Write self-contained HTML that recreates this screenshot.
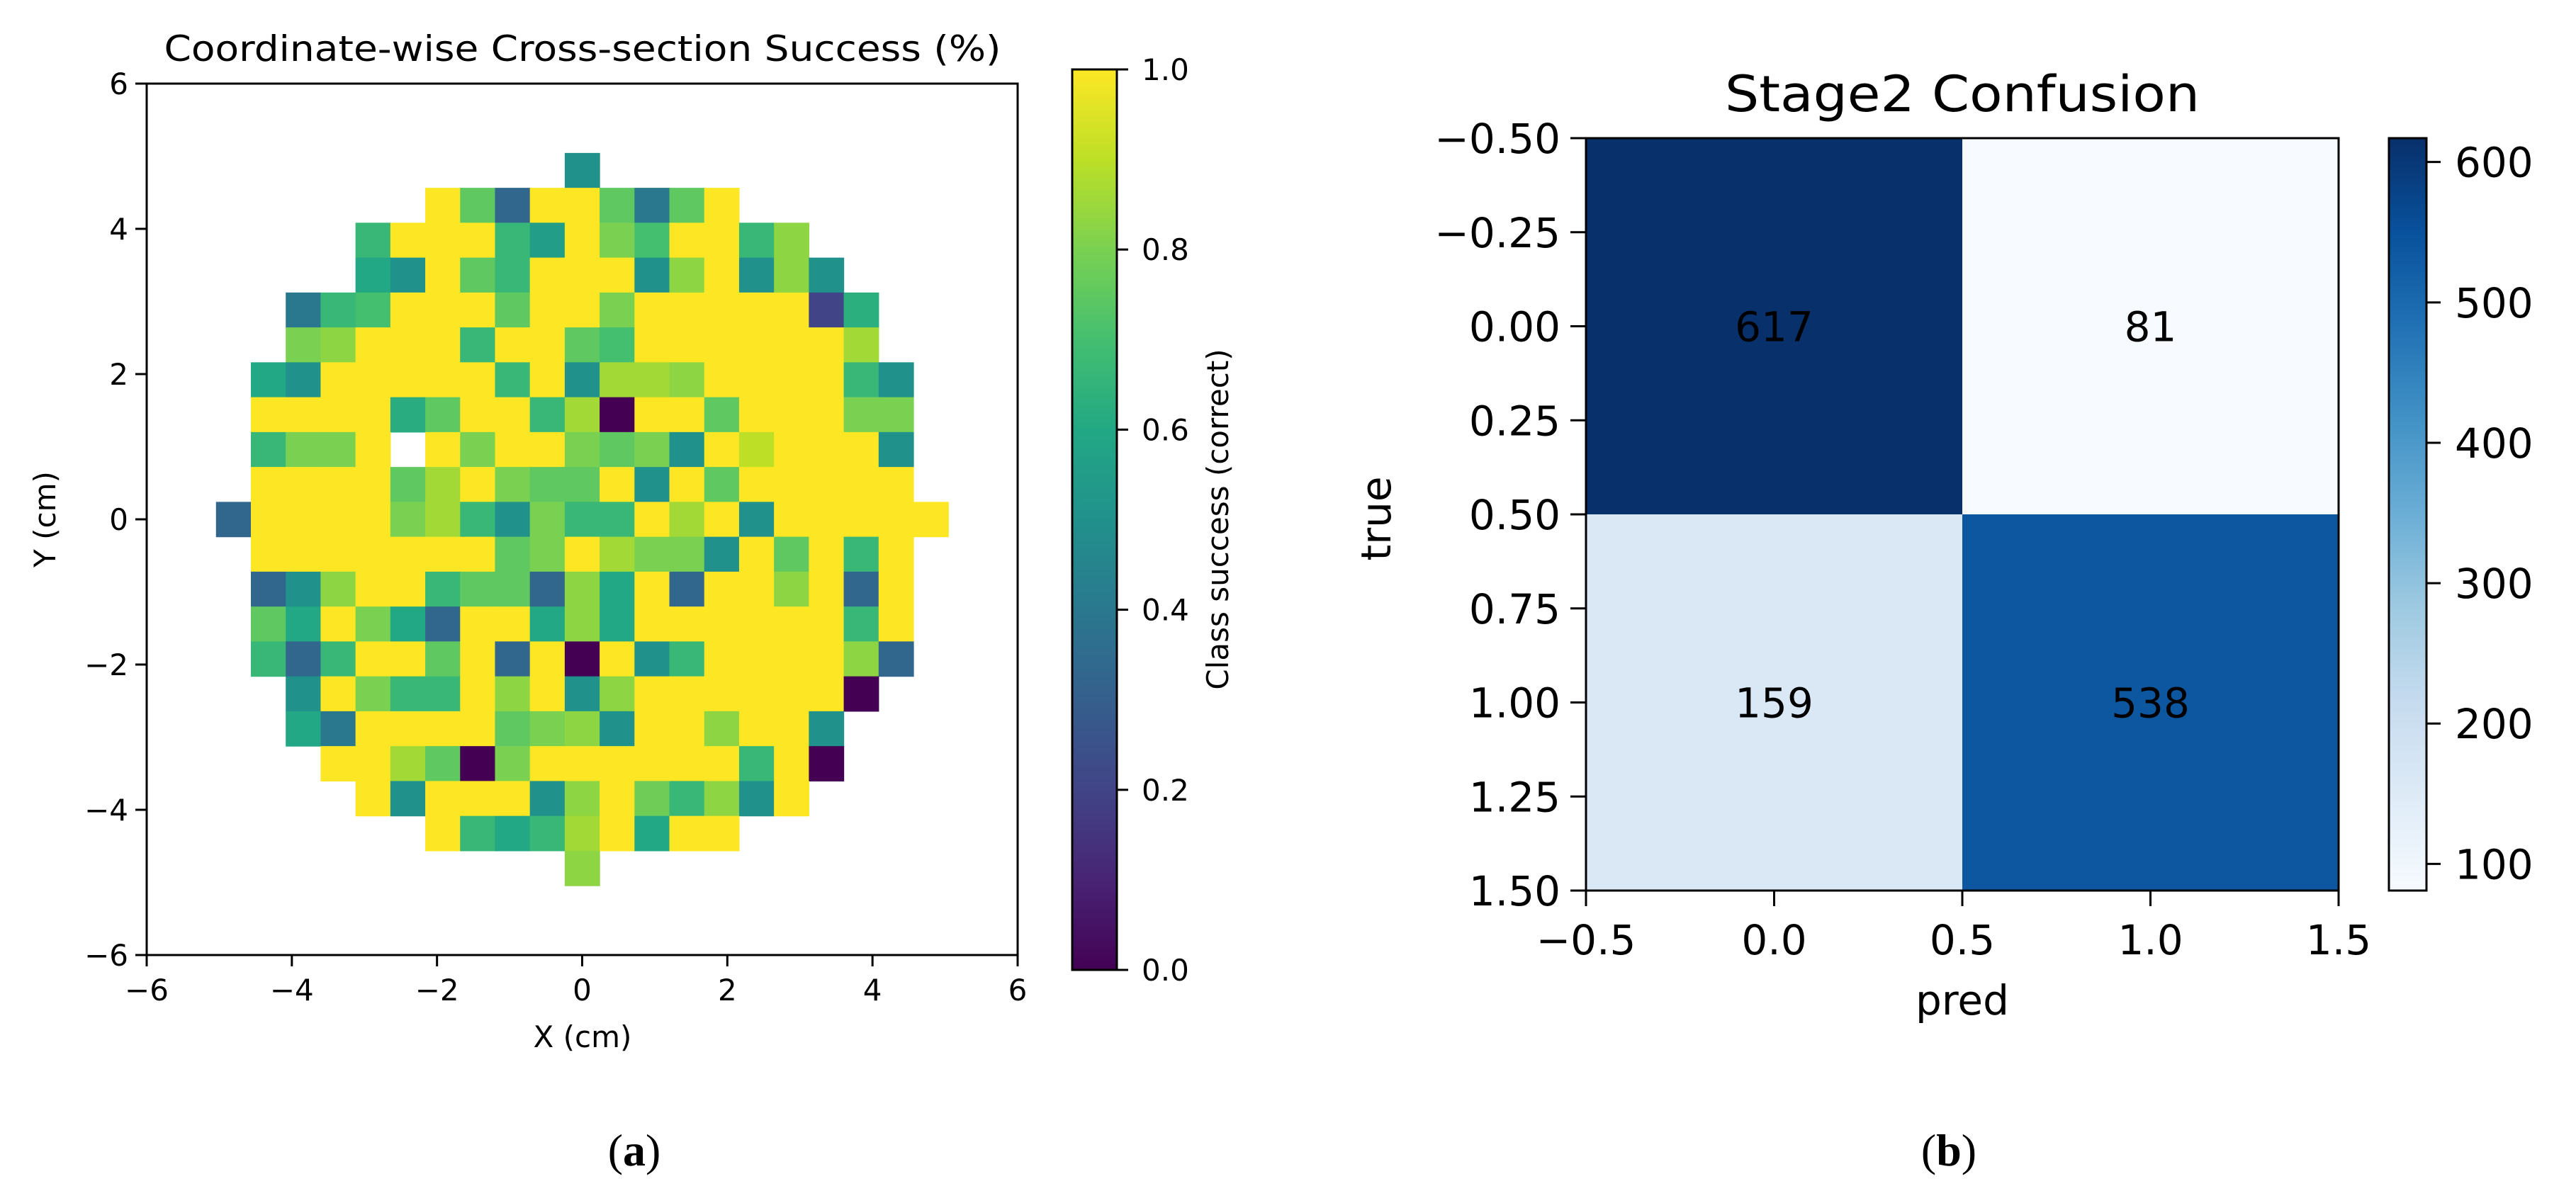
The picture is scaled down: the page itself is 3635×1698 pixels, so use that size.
<!DOCTYPE html>
<html><head><meta charset="utf-8">
<style>
html,body{margin:0;padding:0;background:#fff;}
svg{display:block;}
text{font-family:"DejaVu Sans","Liberation Sans",sans-serif;fill:#000;}
</style></head>
<body>
<svg id="fig" width="3635" height="1698" viewBox="0 0 3635 1698" xmlns="http://www.w3.org/2000/svg">
<defs>
<linearGradient id="viridisGrad" x1="0" y1="1" x2="0" y2="0">
<stop offset="0" stop-color="#440154"/><stop offset="0.1" stop-color="#482475"/><stop offset="0.2" stop-color="#414487"/><stop offset="0.3" stop-color="#355f8d"/><stop offset="0.4" stop-color="#2a788e"/><stop offset="0.5" stop-color="#21918c"/><stop offset="0.6" stop-color="#22a884"/><stop offset="0.7" stop-color="#44bf70"/><stop offset="0.8" stop-color="#7ad151"/><stop offset="0.9" stop-color="#bddf26"/><stop offset="1" stop-color="#fde725"/>
</linearGradient>
<linearGradient id="bluesGrad" x1="0" y1="1" x2="0" y2="0">
<stop offset="0" stop-color="#f7fbff"/><stop offset="0.125" stop-color="#deebf7"/><stop offset="0.25" stop-color="#c6dbef"/><stop offset="0.375" stop-color="#9ecae1"/><stop offset="0.5" stop-color="#6baed6"/><stop offset="0.625" stop-color="#4292c6"/><stop offset="0.75" stop-color="#2171b5"/><stop offset="0.875" stop-color="#08519c"/><stop offset="1" stop-color="#08306b"/>
</linearGradient>
</defs>
<g id="left"></g>
<g id="right"></g>
<text x="895" y="1645" text-anchor="middle" style="font-family:'Liberation Serif',serif;font-size:64px;">(<tspan font-weight="bold">a</tspan>)</text>
<text x="2750" y="1645" text-anchor="middle" style="font-family:'Liberation Serif',serif;font-size:64px;">(<tspan font-weight="bold">b</tspan>)</text>
</svg>
<script>
// ---------- data: panel (a) ----------
const n = null;
const xTickValues = [-6, -4, -2, 0, 2, 4, 6];
const yTickValues = [-6, -4, -2, 0, 2, 4, 6];
const cbarTicksA = [0.0, 0.2, 0.4, 0.6, 0.8, 1.0];
const gridIndex = [-10,-9,-8,-7,-6,-5,-4,-3,-2,-1,0,1,2,3,4,5,6,7,8,9,10];
const successGrid = [
[n,n,n,n,n,n,n,n,n,n,.5,n,n,n,n,n,n,n,n,n,n],
[n,n,n,n,n,n,1,.75,.333,1,1,.75,.4,.75,1,n,n,n,n,n,n],
[n,n,n,n,.667,1,1,1,.667,.55,1,.8,.7,1,1,.667,.83,n,n,n,n],
[n,n,n,n,.6,.5,1,.75,.667,1,1,1,.5,.83,1,.5,.83,.5,n,n,n],
[n,n,.4,.667,.7,1,1,1,.75,1,1,.8,1,1,1,1,1,.2,.63,n,n],
[n,n,.8,.83,1,1,1,.667,1,1,.75,.7,1,1,1,1,1,1,.86,n,n],
[n,.6,.5,1,1,1,1,1,.667,1,.5,.86,.86,.83,1,1,1,1,.667,.5,n],
[n,1,1,1,1,.62,.75,1,1,.667,.86,0,1,1,.75,1,1,1,.8,.8,n],
[n,.667,.8,.8,1,n,1,.8,1,1,.8,.75,.8,.5,1,.9,1,1,1,.5,n],
[n,1,1,1,1,.75,.86,1,.8,.75,.75,1,.5,1,.75,1,1,1,1,1,n],
[.333,1,1,1,1,.8,.86,.667,.5,.8,.667,.667,1,.86,1,.5,1,1,1,1,1],
[n,1,1,1,1,1,1,1,.75,.8,1,.86,.8,.8,.5,1,.75,1,.667,1,n],
[n,.333,.5,.83,1,1,.667,.75,.75,.333,.83,.6,1,.333,1,1,.83,1,.333,1,n],
[n,.75,.6,1,.8,.6,.333,1,1,.6,.83,.6,1,1,1,1,1,1,.667,1,n],
[n,.667,.333,.667,1,1,.75,1,.333,1,0,1,.5,.667,1,1,1,1,.83,.333,n],
[n,n,.5,1,.8,.667,.667,1,.83,1,.5,.83,1,1,1,1,1,1,0,n,n],
[n,n,.6,.4,1,1,1,1,.75,.8,.83,.5,1,1,.83,1,1,.5,n,n,n],
[n,n,n,1,1,.86,.75,0,.8,1,1,1,1,1,1,.667,1,0,n,n,n],
[n,n,n,n,1,.5,1,1,1,.5,.83,1,.78,.667,.83,.5,1,n,n,n,n],
[n,n,n,n,n,n,1,.667,.6,.667,.86,1,.6,1,1,n,n,n,n,n,n],
[n,n,n,n,n,n,n,n,n,n,.83,n,n,n,n,n,n,n,n,n,n]
];
// ---------- data: panel (b) ----------
const predClasses = [0, 1];
const trueClasses = [0, 1];
const confusionRow0 = [617, 81];
const confusionRow1 = [159, 538];
const xTicksB = [-0.5, 0.0, 0.5, 1.0, 1.5];
const yTicksB = [-0.5, -0.25, 0.0, 0.25, 0.5, 0.75, 1.0, 1.25, 1.5];
const cbarTicksB = [100, 200, 300, 400, 500, 600];

const NS = "http://www.w3.org/2000/svg";
function mk(parent, tag, attrs, txt) {
  const e = document.createElementNS(NS, tag);
  for (const k in attrs) e.setAttribute(k, attrs[k]);
  if (txt !== undefined) e.textContent = txt;
  parent.appendChild(e);
  return e;
}
function hex(h){return [parseInt(h.slice(1,3),16),parseInt(h.slice(3,5),16),parseInt(h.slice(5,7),16)];}
function interp(stops, t) {
  t = Math.max(0, Math.min(1, t));
  const k = t * (stops.length - 1), i = Math.min(Math.floor(k), stops.length - 2), f = k - i;
  const a = hex(stops[i]), b = hex(stops[i+1]);
  return "rgb(" + a.map((v,j)=>Math.round(v + (b[j]-v)*f)).join(",") + ")";
}
const viridis = ["#440154","#482475","#414487","#355f8d","#2a788e","#21918c","#22a884","#44bf70","#7ad151","#bddf26","#fde725"];
const blues = ["#f7fbff","#deebf7","#c6dbef","#9ecae1","#6baed6","#4292c6","#2171b5","#08519c","#08306b"];
const fmtMinus = v => (v < 0 ? "\u2212" : "") + Math.abs(v);

// ---------- panel (a) ----------
const L = document.getElementById("left");
const ax = {x0: 207, x1: 1436, y0: 118, y1: 1348, min: -6, max: 6};
const sx = v => ax.x0 + (v - ax.min) / (ax.max - ax.min) * (ax.x1 - ax.x0);
const sy = v => ax.y1 - (v - ax.min) / (ax.max - ax.min) * (ax.y1 - ax.y0);
const cellStep = 0.4805;
const cellsG = mk(L, "g", {});


successGrid.forEach((row, r) => {
  row.forEach((v, c) => {
    if (v === null) return;
    const cx = gridIndex[c] * cellStep, cy = -gridIndex[r] * cellStep;
    const x0 = sx(cx - cellStep/2), x1 = sx(cx + cellStep/2);
    const y0 = sy(cy + cellStep/2), y1 = sy(cy - cellStep/2);
    const rect = mk(cellsG, "rect", {x: x0.toFixed(2), y: y0.toFixed(2), width: (x1-x0+0.6).toFixed(2), height: (y1-y0+0.6).toFixed(2), fill: interp(viridis, v)});
    
    
  });
});
const frameA = mk(L, "rect", {x: ax.x0, y: ax.y0, width: ax.x1-ax.x0, height: ax.y1-ax.y0, fill: "none", stroke: "#000", "stroke-width": 3});


xTickValues.forEach(v => {
  const t = mk(L, "line", {x1: sx(v), x2: sx(v), y1: ax.y1, y2: ax.y1 + 16, stroke: "#000", "stroke-width": 3});
  
  
  const lb = mk(L, "text", {x: sx(v), y: ax.y1 + 64, "text-anchor": "middle", "font-size": 42}, fmtMinus(v));
  
  
});
yTickValues.forEach(v => {
  const t = mk(L, "line", {x1: ax.x0 - 16, x2: ax.x0, y1: sy(v), y2: sy(v), stroke: "#000", "stroke-width": 3});
  
  
  const lb = mk(L, "text", {x: ax.x0 - 26, y: sy(v) + 15, "text-anchor": "end", "font-size": 42}, fmtMinus(v));
  
  
});
const titleA = mk(L, "text", {x: 822, y: 86, "text-anchor": "middle", "font-size": 50, textLength: 1181, lengthAdjust: "spacingAndGlyphs"}, "Coordinate-wise Cross-section Success (%)");


const xLabA = mk(L, "text", {x: 822, y: 1478, "text-anchor": "middle", "font-size": 42}, "X (cm)");


const yLabA = mk(L, "text", {x: 0, y: 0, "text-anchor": "middle", "font-size": 42, transform: "translate(78,733) rotate(-90)"}, "Y (cm)");


// colorbar a
const cbA = {x0: 1513, x1: 1576, y0: 98, y1: 1369};
const cbRectA = mk(L, "rect", {x: cbA.x0, y: cbA.y0, width: cbA.x1-cbA.x0, height: cbA.y1-cbA.y0, fill: "url(#viridisGrad)", stroke: "#000", "stroke-width": 3});


cbarTicksA.forEach(v => {
  const y = cbA.y1 - v * (cbA.y1 - cbA.y0);
  const t = mk(L, "line", {x1: cbA.x1, x2: cbA.x1 + 16, y1: y, y2: y, stroke: "#000", "stroke-width": 3});
  
  
  const lb = mk(L, "text", {x: cbA.x1 + 35, y: y + 15, "font-size": 42}, v.toFixed(1));
  
  
});
const cbLabA = mk(L, "text", {x: 0, y: 0, "text-anchor": "middle", "font-size": 42, transform: "translate(1733,733) rotate(-90)"}, "Class success (correct)");



// ---------- panel (b) ----------
const R = document.getElementById("right");
const bx = {x0: 2238, x1: 3300, y0: 195, y1: 1257};
const bsx = v => bx.x0 + (v + 0.5) / 2 * (bx.x1 - bx.x0);
const bsy = v => bx.y0 + (v + 0.5) / 2 * (bx.y1 - bx.y0);
const allVals = confusionRow0.concat(confusionRow1);
const vmin = Math.min(...allVals), vmax = Math.max(...allVals);
[confusionRow0, confusionRow1].forEach((row, r) => {
  row.forEach((v, c) => {
    const x0 = bsx(predClasses[c] - 0.5), y0 = bsy(trueClasses[r] - 0.5);
    const rect = mk(R, "rect", {x: x0, y: y0, width: bsx(predClasses[c] + 0.5) - x0 + 0.5, height: bsy(trueClasses[r] + 0.5) - y0 + 0.5, fill: interp(blues, (v - vmin) / (vmax - vmin))});
    
    
    const tx = mk(R, "text", {x: bsx(predClasses[c]), y: bsy(trueClasses[r]) + 21, "text-anchor": "middle", "font-size": 58}, String(v));
    
    
  });
});
const frameB = mk(R, "rect", {x: bx.x0, y: bx.y0, width: bx.x1-bx.x0, height: bx.y1-bx.y0, fill: "none", stroke: "#000", "stroke-width": 3});


xTicksB.forEach(v => {
  const t = mk(R, "line", {x1: bsx(v), x2: bsx(v), y1: bx.y1, y2: bx.y1 + 22, stroke: "#000", "stroke-width": 3});
  
  
  const lb = mk(R, "text", {x: bsx(v), y: bx.y1 + 90, "text-anchor": "middle", "font-size": 58}, (v < 0 ? "\u2212" : "") + Math.abs(v).toFixed(1));
  
  
});
yTicksB.forEach(v => {
  const t = mk(R, "line", {x1: bx.x0 - 22, x2: bx.x0, y1: bsy(v), y2: bsy(v), stroke: "#000", "stroke-width": 3});
  
  
  const lb = mk(R, "text", {x: bx.x0 - 36, y: bsy(v) + 21, "text-anchor": "end", "font-size": 58}, (v < 0 ? "\u2212" : "") + Math.abs(v).toFixed(2));
  
  
});
const titleB = mk(R, "text", {x: 2769, y: 157, "text-anchor": "middle", "font-size": 70, textLength: 670, lengthAdjust: "spacingAndGlyphs"}, "Stage2 Confusion");


const xLabB = mk(R, "text", {x: 2769, y: 1432, "text-anchor": "middle", "font-size": 58}, "pred");


const yLabB = mk(R, "text", {x: 0, y: 0, "text-anchor": "middle", "font-size": 58, transform: "translate(1962,732) rotate(-90)"}, "true");


// colorbar b
const cbB = {x0: 3371, x1: 3424, y0: 195, y1: 1257};
const cbRectB = mk(R, "rect", {x: cbB.x0, y: cbB.y0, width: cbB.x1-cbB.x0, height: cbB.y1-cbB.y0, fill: "url(#bluesGrad)", stroke: "#000", "stroke-width": 3});


cbarTicksB.forEach(v => {
  const y = cbB.y1 - (v - vmin) / (vmax - vmin) * (cbB.y1 - cbB.y0);
  const t = mk(R, "line", {x1: cbB.x1, x2: cbB.x1 + 20, y1: y, y2: y, stroke: "#000", "stroke-width": 3});
  
  
  const lb = mk(R, "text", {x: cbB.x1 + 40, y: y + 21, "font-size": 58}, String(v));
  
  
});
</script>
</body></html>
